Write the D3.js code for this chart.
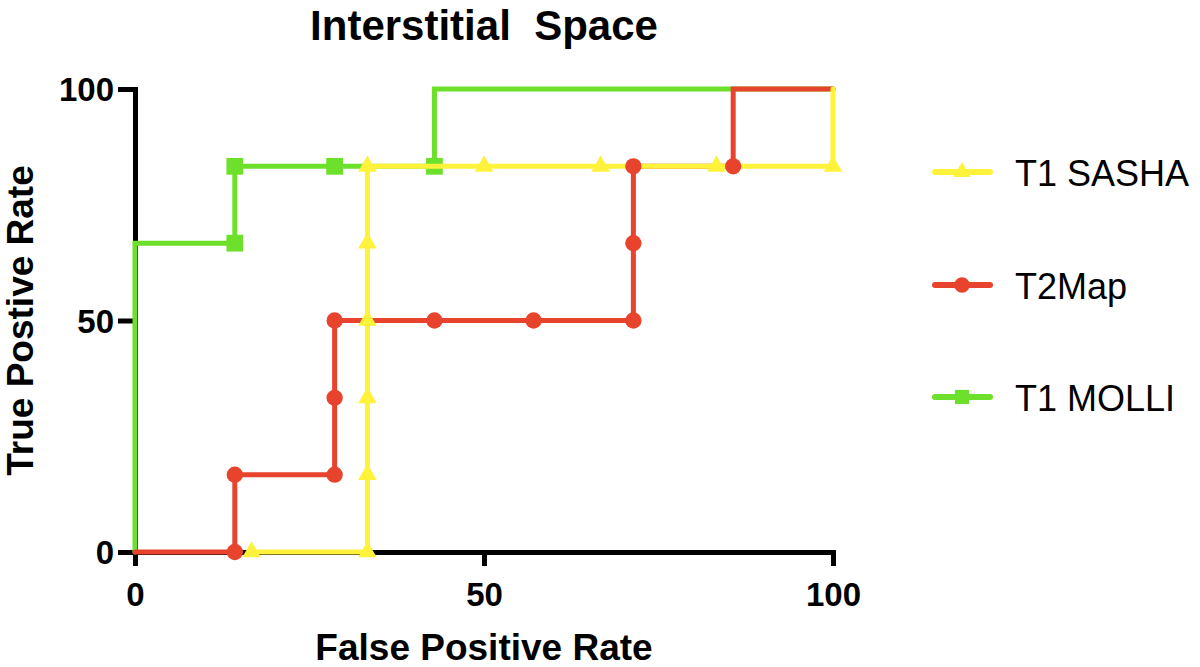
<!DOCTYPE html>
<html lang="en">
<head>
  <meta charset="UTF-8">
  <title>Interstitial Space</title>
  <script src="https://d3js.org/d3.v7.min.js"></script>
  <style>
    body {
      margin: 0;
      background: #fff;
      font-family: "Liberation Sans", Arial, Helvetica, sans-serif;
    }
    .axis path, .axis line {
      stroke: #000;
      stroke-width: 5;
    }
    .axis text {
      font-size: 33px;
      font-weight: bold;
      fill: #000;
    }
  </style>
</head>
<body>
  <div id="chart"></div>

  <script>
    // ROC curves, false positive rate (%) vs true positive rate (%)
    const sashaLineX = [16.7, 33.3, 33.3, 100, 100];
    const sashaLineY = [0, 0, 83.3, 83.3, 100];
    const sashaPtsX = [16.7, 33.3, 33.3, 33.3, 33.3, 33.3, 33.3, 50, 66.7, 83.3, 100];
    const sashaPtsY = [0, 0, 16.7, 33.3, 50, 66.7, 83.3, 83.3, 83.3, 83.3, 83.3];

    const t2LineX = [0, 14.3, 14.3, 28.6, 28.6, 71.4, 71.4, 85.7, 85.7, 100];
    const t2LineY = [0, 0, 16.7, 16.7, 50, 50, 83.3, 83.3, 100, 100];
    const t2PtsX = [14.3, 14.3, 28.6, 28.6, 28.6, 42.9, 57.1, 71.4, 71.4, 71.4, 85.7];
    const t2PtsY = [0, 16.7, 16.7, 33.3, 50, 50, 50, 50, 66.7, 83.3, 83.3];

    const molliLineX = [0, 0, 14.3, 14.3, 42.9, 42.9, 100];
    const molliLineY = [0, 66.7, 66.7, 83.3, 83.3, 100, 100];
    const molliPtsX = [14.3, 14.3, 28.6, 42.9];
    const molliPtsY = [66.7, 83.3, 83.3, 83.3];

    const xTicks = [0, 50, 100];
    const yTicks = [0, 50, 100];

    const seriesNames = ["T1 SASHA", "T2Map", "T1 MOLLI"];
    const seriesColors = ["#fff23a", "#e8432d", "#6ce02a"];
    const seriesSymbols = [d3.symbolTriangle, d3.symbolCircle, d3.symbolSquare];

    const width = 1200;
    const height = 667;
    const margin = { left: 135, right: 367, top: 89, bottom: 115 };

    const x = d3.scaleLinear().domain([0, 100]).range([margin.left, width - margin.right]);
    const y = d3.scaleLinear().domain([0, 100]).range([height - margin.bottom, margin.top]);

    const svg = d3.select("#chart").append("svg")
      .attr("width", width)
      .attr("height", height);

    // axes
    svg.append("g")
      .attr("class", "axis")
      .attr("transform", `translate(0,${y(0)})`)
      .call(d3.axisBottom(x).tickValues(xTicks).tickSize(14).tickSizeOuter(14).tickPadding(10))
      .call(g => g.selectAll("text").attr("dy", "0.9em"));

    svg.append("g")
      .attr("class", "axis")
      .attr("transform", `translate(${x(0)},0)`)
      .call(d3.axisLeft(y).tickValues(yTicks).tickSize(17).tickSizeOuter(17).tickPadding(4))
      .call(g => g.selectAll("text").attr("dy", "0.36em"));

    svg.selectAll(".axis path").attr("fill", "none");

    const line = d3.line().x(d => x(d[0])).y(d => y(d[1]));
    const zip = (xs, ys) => xs.map((v, i) => [v, ys[i]]);

    function drawLine(xs, ys, color) {
      svg.append("path")
        .datum(zip(xs, ys))
        .attr("d", line)
        .attr("fill", "none")
        .attr("stroke", color)
        .attr("stroke-width", 5)
        .attr("stroke-linecap", "round")
        .attr("stroke-linejoin", "miter");
    }

    function drawPoints(xs, ys, symbol, size, color) {
      svg.append("g")
        .selectAll("path")
        .data(zip(xs, ys))
        .join("path")
        .attr("transform", d => `translate(${x(d[0])},${y(d[1])})`)
        .attr("d", d3.symbol().type(symbol).size(size))
        .attr("fill", color);
    }

    // draw order follows the layering seen in the picture
    drawLine(molliLineX, molliLineY, seriesColors[2]);
    drawPoints(molliPtsX, molliPtsY, d3.symbolSquare, 280, seriesColors[2]);
    drawLine(t2LineX, t2LineY, seriesColors[1]);
    drawLine(sashaLineX, sashaLineY, seriesColors[0]);
    drawPoints(sashaPtsX, sashaPtsY, d3.symbolTriangle, 150, seriesColors[0]);
    drawPoints(t2PtsX, t2PtsY, d3.symbolCircle, 210, seriesColors[1]);

    // title and axis labels
    svg.append("text")
      .attr("x", (x(0) + x(100)) / 2)
      .attr("y", 40)
      .attr("text-anchor", "middle")
      .attr("font-size", 42)
      .attr("font-weight", "bold")
      .style("white-space", "pre")
      .text("Interstitial  Space");

    svg.append("text")
      .attr("x", (x(0) + x(100)) / 2)
      .attr("y", 660)
      .attr("text-anchor", "middle")
      .attr("font-size", 37)
      .attr("font-weight", "bold")
      .text("False Positive Rate");

    svg.append("text")
      .attr("transform", `translate(33,${(y(0) + y(100)) / 2}) rotate(-90)`)
      .attr("text-anchor", "middle")
      .attr("font-size", 37)
      .attr("font-weight", "bold")
      .text("True Postive Rate");

    // legend
    const legendY = [172, 285, 397];
    const legend = svg.append("g")
      .selectAll("g")
      .data(seriesNames)
      .join("g")
      .attr("transform", (d, i) => `translate(935,${legendY[i]})`);

    legend.append("line")
      .attr("x1", 0).attr("x2", 55)
      .attr("stroke", (d, i) => seriesColors[i])
      .attr("stroke-width", 6)
      .attr("stroke-linecap", "round");

    legend.append("path")
      .attr("transform", "translate(27,0)")
      .attr("d", (d, i) => d3.symbol().type(seriesSymbols[i]).size([130, 190, 200][i])())
      .attr("fill", (d, i) => seriesColors[i]);

    legend.append("text")
      .attr("x", 80)
      .attr("y", 14)
      .attr("font-size", 36)
      .text(d => d);
  </script>
</body>
</html>
